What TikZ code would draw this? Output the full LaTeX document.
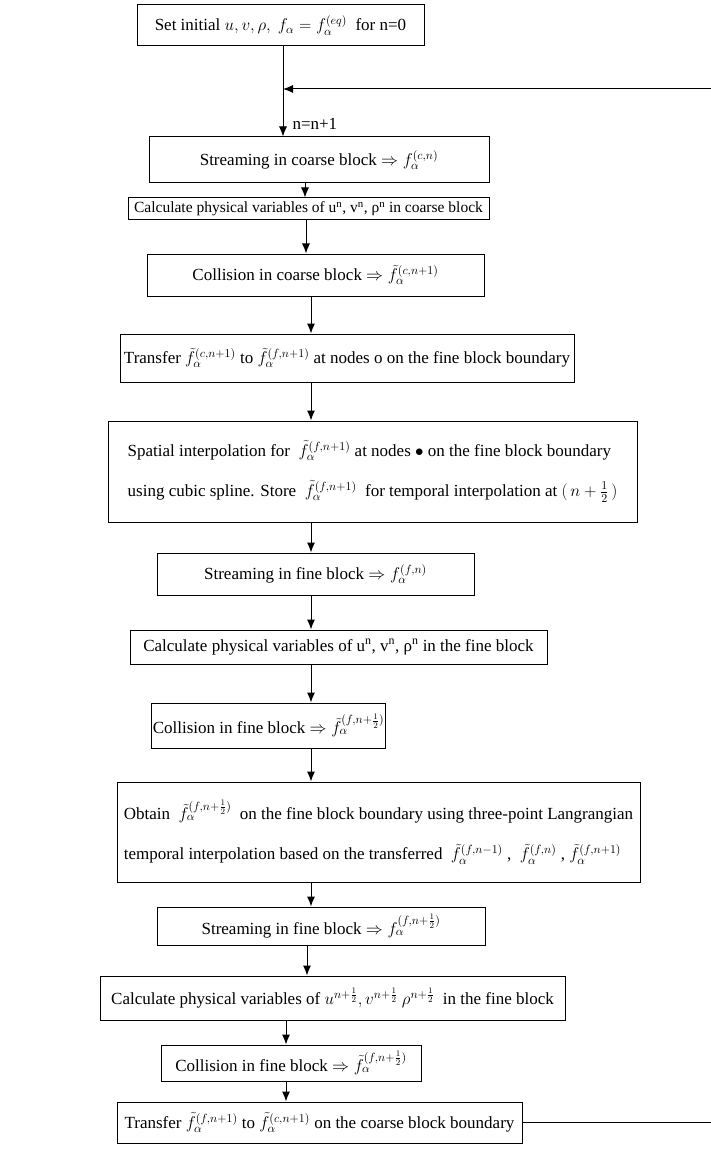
\RequirePackage{fix-cm}
\documentclass[tikz,border=0pt]{standalone}
\usepackage{fontspec}
\setmainfont{Liberation Serif}
\usetikzlibrary{arrows.meta}
\begin{document}
\begin{tikzpicture}[x=1pt,y=-1pt,
  box/.style={draw, line width=1pt, inner sep=2pt, font=\fontsize{17}{21}\selectfont},
  arr/.style={line width=1pt, -{Latex[length=10pt,width=8pt]}}]
\useasboundingbox (0,0) rectangle (710,1174);
\fill[white] (0,0) rectangle (710,1174);
% boxes
\node[box, minimum width=287pt, minimum height=41pt] (b1) at (280.5,25.5) {Set initial $u,v,\rho,\ f_\alpha=f_\alpha^{(eq)}$ \ for n=0};
\node[box, minimum width=340pt, minimum height=46pt] (b2) at (319,160) {Streaming in coarse block $\Rightarrow f_\alpha^{(c,n)}$};
\node[box, minimum width=361pt, minimum height=22pt, inner sep=1pt, font=\fontsize{15.5}{19}\selectfont] (b3) at (308.5,209) {Calculate physical variables of u\textsuperscript{n}, v\textsuperscript{n}, ρ\textsuperscript{n} in coarse block};
\node[box, minimum width=337pt, minimum height=42pt] (b4) at (315.5,275) {Collision in coarse block $\Rightarrow \tilde f_\alpha^{(c,n+1)}$};
\node[box, minimum width=454pt, minimum height=48pt] (b5) at (347,358) {Transfer $\tilde f_\alpha^{(c,n+1)}$ to $\tilde f_\alpha^{(f,n+1)}$ at nodes o on the fine block boundary};
\node[box, minimum width=529pt, minimum height=101pt, align=left] (b6) at (372.5,471.5) {Spatial interpolation for \ $\tilde f_\alpha^{(f,n+1)}$ at nodes $\bullet$ on the fine block boundary\\[19pt]using cubic spline. Store \ $\tilde f_\alpha^{(f,n+1)}$ \ for temporal interpolation at $(\,n+\frac12\,)$};
\node[box, minimum width=317pt, minimum height=42pt] (b7) at (315.5,574) {Streaming in fine block $\Rightarrow f_\alpha^{(f,n)}$};
\node[box, minimum width=417pt, minimum height=34pt] (b8) at (338.5,647) {Calculate physical variables of u\textsuperscript{n}, v\textsuperscript{n}, ρ\textsuperscript{n} in the fine block};
\node[box, minimum width=231pt, minimum height=45pt, inner sep=1pt] (b9) at (268.5,725.5) {Collision in fine block $\Rightarrow \tilde f_\alpha^{(f,n+\frac12)}$};
\node[box, minimum width=523pt, minimum height=100pt, align=left] (b10) at (378.5,832) {Obtain \ $\tilde f_\alpha^{(f,n+\frac12)}$ \ on the fine block boundary using three-point Langrangian\\[19pt]temporal interpolation based on the transferred \ $\tilde f_\alpha^{(f,n-1)}$ , \ $\tilde f_\alpha^{(f,n)}$ , $\tilde f_\alpha^{(f,n+1)}$};
\node[box, minimum width=328pt, minimum height=38pt] (b11) at (321,926) {Streaming in fine block $\Rightarrow f_\alpha^{(f,n+\frac12)}$};
\node[box, minimum width=465pt, minimum height=44pt] (b12) at (332.5,998) {Calculate physical variables of $u^{n+\frac12},v^{n+\frac12}\ \rho^{n+\frac12}$ \ in the fine block};
\node[box, minimum width=260pt, minimum height=36pt] (b13) at (291,1063) {Collision in fine block $\Rightarrow \tilde f_\alpha^{(f,n+\frac12)}$};
\node[box, minimum width=405pt, minimum height=41pt] (b14) at (319.5,1122.5) {Transfer $\tilde f_\alpha^{(f,n+1)}$ to $\tilde f_\alpha^{(c,n+1)}$ on the coarse block boundary};
% connector x positions
\coordinate (xa) at (283,0);
\coordinate (xb) at (305,0);
\coordinate (xc) at (306,0);
\coordinate (xd) at (311,0);
\coordinate (xe) at (307,0);
\coordinate (xf) at (286,0);
\draw[arr] (b1.south -| xa) -- (b2.north -| xa);
\node[anchor=west, font=\fontsize{17}{21}\selectfont] (lbl) at (289,124) {n=n+1};
\draw[arr] (b2.south -| xb) -- (b3.north -| xb);
\draw[arr] (b3.south -| xc) -- (b4.north -| xc);
\draw[arr] (b4.south -| xd) -- (b5.north -| xd);
\draw[arr] (b5.south -| xd) -- (b6.north -| xd);
\draw[arr] (b6.south -| xd) -- (b7.north -| xd);
\draw[arr] (b7.south -| xd) -- (b8.north -| xd);
\draw[arr] (b8.south -| xd) -- (b9.north -| xd);
\draw[arr] (b9.south -| xd) -- (b10.north -| xd);
\draw[arr] (b10.south -| xd) -- (b11.north -| xd);
\draw[arr] (b11.south -| xe) -- (b12.north -| xe);
\draw[arr] (b12.south -| xf) -- (b13.north -| xf);
\draw[arr] (b13.south -| xf) -- (b14.north -| xf);
% feedback loop
\coordinate (loopin) at (283,89);
\coordinate (loopR) at (716,89);
\draw[arr] (b14.east) -| (loopR) -- (loopin);
\end{tikzpicture}
\end{document}
